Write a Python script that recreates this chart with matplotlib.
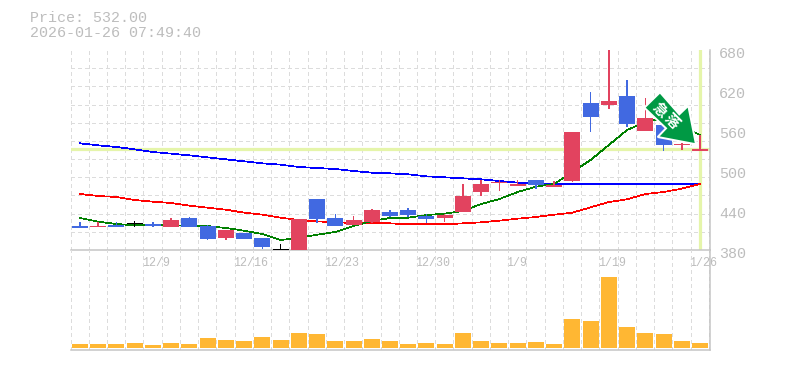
import matplotlib
matplotlib.use("Agg")
import matplotlib.pyplot as plt
from matplotlib.patches import Polygon
from matplotlib.transforms import Affine2D, ScaledTranslation

# precios
opens = [416, 414.5, 417.5, 420, 419, 414.5, 428, 416, 398, 405.5, 398, 380.5, 380, 456.5, 428, 417.5, 422, 437,
         440, 431, 428, 437, 467, 480.5, 476, 485, 474.5, 483.5, 600.5, 597.5, 611, 558.5, 567.5, 537.5, 528]
closes = [413, 416, 414.5, 420, 416, 425, 414.5, 396.5, 410, 396.5, 384.5, 380.5, 426.5, 426.5, 416, 425, 440, 431,
          432.5, 426.5, 432.5, 461, 479, 482, 479, 477.5, 477.5, 557, 579.5, 603.5, 569, 578, 537.5, 539, 532]
highs = [422, 422, 422, 423, 422, 428, 429.5, 417.5, 410, 405.5, 398, 389, 426.5, 456.5, 434, 431, 441.5, 440,
         443, 434, 434, 479, 485, 485, 485, 485, 483, 557, 617, 680, 635, 608, 567.5, 541, 552]
lows = [413, 414.5, 414.5, 415, 414, 414.5, 414.5, 395, 395, 396.5, 381.5, 380.5, 380, 421, 416, 417.5, 420, 429.5,
        429.5, 420, 422, 461, 461, 468.5, 476, 471.5, 474.5, 482, 557, 591.5, 564.5, 558.5, 528.5, 530, 528]
ma_short = [428, 422.5, 419, 417, 417.5, 417.5, 416, 416, 413, 409, 404, 395, 398, 403, 407, 416, 423.5, 428,
            428.5, 432.5, 434.5, 438.5, 449, 456.5, 467, 475, 479, 497, 515, 537.5, 560, 572, 578, 566, 552.5]
ma_mid = [464, 461, 459.5, 455, 452.5, 450.5, 446.5, 443.5, 440.5, 436, 433, 428.5, 425, 423, 421.5, 420.5, 420, 420,
          418.5, 418.5, 418.5, 420, 421.5, 424, 427, 429.5, 433, 436, 444, 452, 456, 464, 467, 472, 479]
ma_long = [540, 537, 534.5, 531, 527, 524.5, 522, 519, 516, 513, 510, 508, 504.5, 503, 501.5, 498.5, 496, 495,
           493.5, 490.5, 489, 487.5, 486, 483.5, 481, 479, 478.5, 478.5, 478.5, 478.5, 478.5, 478.5, 478.5, 478.5, 479]
volumes = [4, 4, 4, 5, 3, 5, 4, 10, 8, 7, 11, 8, 15, 14, 7, 7, 9, 7, 4, 5, 4, 15, 7, 5, 5, 6, 4, 29, 27, 71, 21, 15, 14, 7, 5]
date_idx = [4, 9, 14, 19, 24, 29, 34]
date_labels = ["12/9", "12/16", "12/23", "12/30", "1/9", "1/19", "1/26"]
price_ticks = [380, 440, 500, 560, 620, 680]
last_price = 532

W, H = 785, 370
GRID = "#dcdcdc"
TXT = "#bdbdbd"
UP = "#e2435f"
DOWN = "#4169e1"
MONO = "Liberation Mono"
px = 0.72  # 1 pixel en puntos a dpi 100

fig = plt.figure(figsize=(W / 100, H / 100), dpi=100, facecolor="white")
ax = fig.add_axes([70.5 / W, 1 - 250 / H, 639 / W, 200 / H])
ax_v = fig.add_axes([70.5 / W, 1 - 350 / H, 639 / W, 100 / H])
ax_v.patch.set_visible(False)

n = len(closes)
xs = list(range(n))
ax.set_ylim(380, 680)
ax_v.set_ylim(-2, 98)

for a in (ax, ax_v):
    a.set_xlim(-0.52, 34.52)
    a.set_xticks([i - 0.52 for i in range(n + 1)], minor=True)
    a.grid(True, which="minor", axis="x", color=GRID, lw=px, linestyle=(0, (4, 3)), antialiased=False, zorder=0)
    a.tick_params(which="both", length=0)
    a.set_axisbelow(True)
    a.spines["top"].set_visible(False)
    a.spines["left"].set_visible(False)
    a.spines["right"].set_color("#c4c4c4")
    a.spines["bottom"].set_color("#c4c4c4")
    a.spines["right"].set_linewidth(1.5 * px)
    a.spines["bottom"].set_linewidth(1.5 * px)

ax.set_yticks([380 + k * 300 / 11 for k in range(12)], minor=True)
ax.grid(True, which="minor", axis="y", color=GRID, lw=px, linestyle=(0, (4, 3)), antialiased=False, zorder=0)

# lineas de precio actual
ax.axhline(last_price, color="#e5f5aa", lw=3.2 * px, zorder=1)
ax.axvline(xs[-1], color="#e5f5aa", lw=3.2 * px, zorder=1)

for vals, col in [(ma_long, "#0000ff"), (ma_mid, "#ff0000"), (ma_short, "#008000")]:
    ax.plot(xs, vals, color=col, lw=0.7 * px, antialiased=False, zorder=2)

w = 16 / 18.24
wick = 1.5 / 18.24
for i in xs:
    o, c = opens[i], closes[i]
    if o == c:
        col = "black"
    elif c > o:
        col = UP
    else:
        col = DOWN
    ax.bar(i, highs[i] - lows[i], wick, bottom=lows[i], color=col, antialiased=False, zorder=3)
    if o == c:
        ax.bar(i, 1.5, w, bottom=c - 0.75, color=col, antialiased=False, zorder=3)
    else:
        ax.bar(i, abs(c - o), w, bottom=min(o, c), color=col, antialiased=False, zorder=3)

ax_v.bar(xs, volumes, w, color="#ffb733", antialiased=False, zorder=3)

# etiquetas
ax.yaxis.tick_right()
ax.set_yticks(price_ticks)
ax.set_yticklabels([str(p) for p in price_ticks], fontfamily=MONO, fontsize=10.8, color=TXT)
ax.tick_params(axis="y", pad=7)
down = ScaledTranslation(0, -3 / 100, fig.dpi_scale_trans)
for t in ax.get_yticklabels():
    t.set_transform(t.get_transform() + down)

ax.set_xticks(date_idx)
ax.set_xticklabels(date_labels, fontfamily=MONO, fontsize=8.4, color=TXT, ha="left")
ax.tick_params(axis="x", pad=5)
left = ScaledTranslation(-11 / 100, 0, fig.dpi_scale_trans)
for t in ax.get_xticklabels():
    t.set_transform(t.get_transform() + left)
ax_v.set_xticks([])
ax_v.set_yticks([])

fig.text(30 / W, 1 - 18 / H, "Price: 532.00", family=MONO, fontsize=10.8, color=TXT, va="center")
fig.text(30 / W, 1 - 33 / H, "2026-01-26 07:49:40", family=MONO, fontsize=10.8, color=TXT, va="center")

# flecha de la etiqueta, en pixeles de la imagen
to_px = Affine2D().scale(1, -1).translate(0, H)
arrow = [(660, 92.3), (644.3, 107.7), (666, 128.3), (657.7, 137), (696, 144.3), (688.3, 105.7), (679.3, 114.3)]
fig.add_artist(Polygon(arrow, closed=True, facecolor="#009944", edgecolor="white", lw=2 * px,
                       transform=to_px, zorder=10))
fig.text(660 / W, 1 - 110 / H, "急", family=["Noto Sans CJK JP"], weight="bold", fontsize=10.5, color="white",
         rotation=-45, ha="center", va="center", zorder=11)
fig.text(672 / W, 1 - 121 / H, "落", family=["Noto Sans CJK JP"], weight="bold", fontsize=10.5, color="white",
         rotation=-45, ha="center", va="center", zorder=11)

fig.savefig("out.png", dpi=100)
